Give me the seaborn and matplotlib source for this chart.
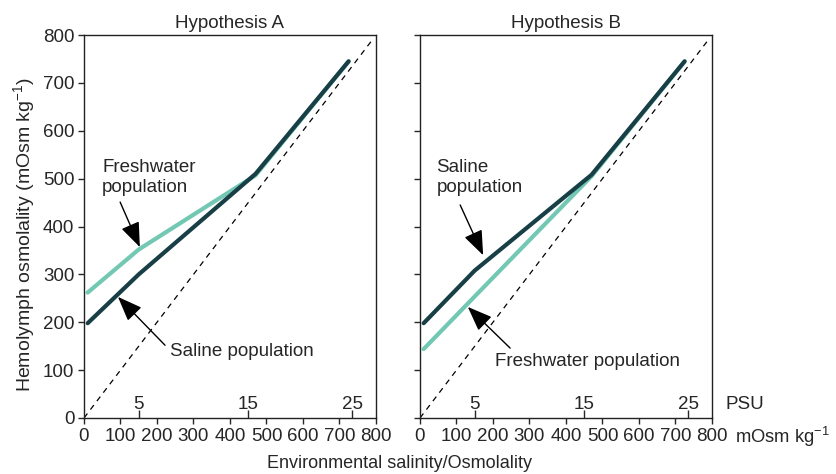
import matplotlib
matplotlib.use("Agg")
import matplotlib.pyplot as plt
import matplotlib.transforms as mtransforms
import seaborn as sns
import pandas as pd

# ---------------- data ----------------
panel_titles = ["Hypothesis A", "Hypothesis B"]
env_osm = [10, 150, 470, 725]
a_saline = [198, 300, 510, 745]
a_fresh = [262, 352, 507, 745]
b_saline = [198, 308, 508, 745]
b_fresh = [144, 254, 505, 745]
iso_line = [0, 790]
psu_labels = ["5", "15", "25"]
psu_osm = [150, 450, 735]
axis_ticks = [0, 100, 200, 300, 400, 500, 600, 700, 800]

dark = "#173f45"
teal = "#72c8b3"
FS = 13.5
FS_YLAB = 14.0
FS_XLAB = 13.0

sns.set_style("ticks")
plt.rcParams["font.family"] = ["Liberation Sans", "DejaVu Sans"]
plt.rcParams["font.size"] = FS
plt.rcParams["mathtext.fontset"] = "custom"
plt.rcParams["mathtext.rm"] = "Liberation Sans"
plt.rcParams["mathtext.it"] = "Liberation Sans:italic"
plt.rcParams["mathtext.bf"] = "Liberation Sans:bold"

fig = plt.figure(figsize=(8.37, 4.74), dpi=100)
axA = fig.add_axes([84 / 837, 56 / 474, 292 / 837, 383 / 474])
axB = fig.add_axes([420 / 837, 56 / 474, 292 / 837, 383 / 474])

series = {
    "A": (a_saline, a_fresh),
    "B": (b_saline, b_fresh),
}

for ax, key, title in [(axA, "A", panel_titles[0]), (axB, "B", panel_titles[1])]:
    sal, fr = series[key]
    df = pd.DataFrame({
        "x": env_osm * 2,
        "y": fr + sal,
        "pop": ["Freshwater"] * len(env_osm) + ["Saline"] * len(env_osm),
    })
    sns.lineplot(data=df, x="x", y="y", hue="pop", hue_order=["Freshwater", "Saline"],
                 palette=[teal, dark], linewidth=3.0, legend=False, ax=ax,
                 sort=False, estimator=None)
    for line in ax.get_lines():
        line.set_solid_capstyle("round")
    ax.plot(iso_line, iso_line, color="black", lw=0.9, ls=(0, (4.5, 4)))
    ax.set_xlim(0, 800)
    ax.set_ylim(0, 800)
    ax.set_xticks(axis_ticks)
    ax.set_yticks(axis_ticks)
    ax.tick_params(direction="out", length=4, width=1, labelsize=FS, pad=3)
    for s in ax.spines.values():
        s.set_visible(True)
        s.set_color("#222222")
        s.set_linewidth(1)
    ax.set_xlabel("")
    ax.set_ylabel("")
    ax.set_title(title, fontsize=FS, pad=5)
    # PSU ticks (inward, at bottom)
    sec = ax.secondary_xaxis(0)
    sec.set_xticks(psu_osm)
    sec.tick_params(direction="in", length=6, width=1, labelbottom=False)
    sec.spines["bottom"].set_visible(False)
    trans = mtransforms.blended_transform_factory(ax.transData, ax.transAxes)
    for lab, xv in zip(psu_labels, psu_osm):
        ax.text(xv, 0.034, lab, transform=trans, ha="center", va="center", fontsize=FS)

axB.set_yticklabels([])
axA.set_ylabel("Hemolymph osmolality (mOsm kg$^{-1}$)", fontsize=FS_YLAB)
axA.yaxis.set_label_coords(-0.162, 0.478)

arrow = dict(arrowstyle="-|>,head_length=0.9,head_width=0.35", color="black",
             lw=1.0, mutation_scale=17, shrinkA=0, shrinkB=0)
axA.text(50, 502, "Freshwater\npopulation", ha="left", va="center", fontsize=FS, linespacing=1.2)
axA.annotate("", xy=(153, 357), xytext=(99, 451), arrowprops=arrow)
axA.text(236, 138, "Saline population", ha="left", va="center", fontsize=FS)
axA.annotate("", xy=(93, 253), xytext=(222, 152), arrowprops=arrow)

axB.text(45, 502, "Saline\npopulation", ha="left", va="center", fontsize=FS, linespacing=1.2)
axB.annotate("", xy=(173, 340), xytext=(110, 445), arrowprops=arrow)
axB.text(206, 119, "Freshwater population", ha="left", va="center", fontsize=FS)
axB.annotate("", xy=(131, 232), xytext=(247, 146), arrowprops=arrow)

axB.text(1.045, 0.034, "PSU", transform=axB.transAxes, ha="left", va="center", fontsize=FS)
axB.text(1.079, -0.05, "mOsm kg$^{-1}$", transform=axB.transAxes, ha="left", va="center", fontsize=13.2)

fig.text(400 / 837, 1 - 463 / 474, "Environmental salinity/Osmolality", ha="center", va="center", fontsize=FS_XLAB)

fig.savefig("out.png", dpi=100)
